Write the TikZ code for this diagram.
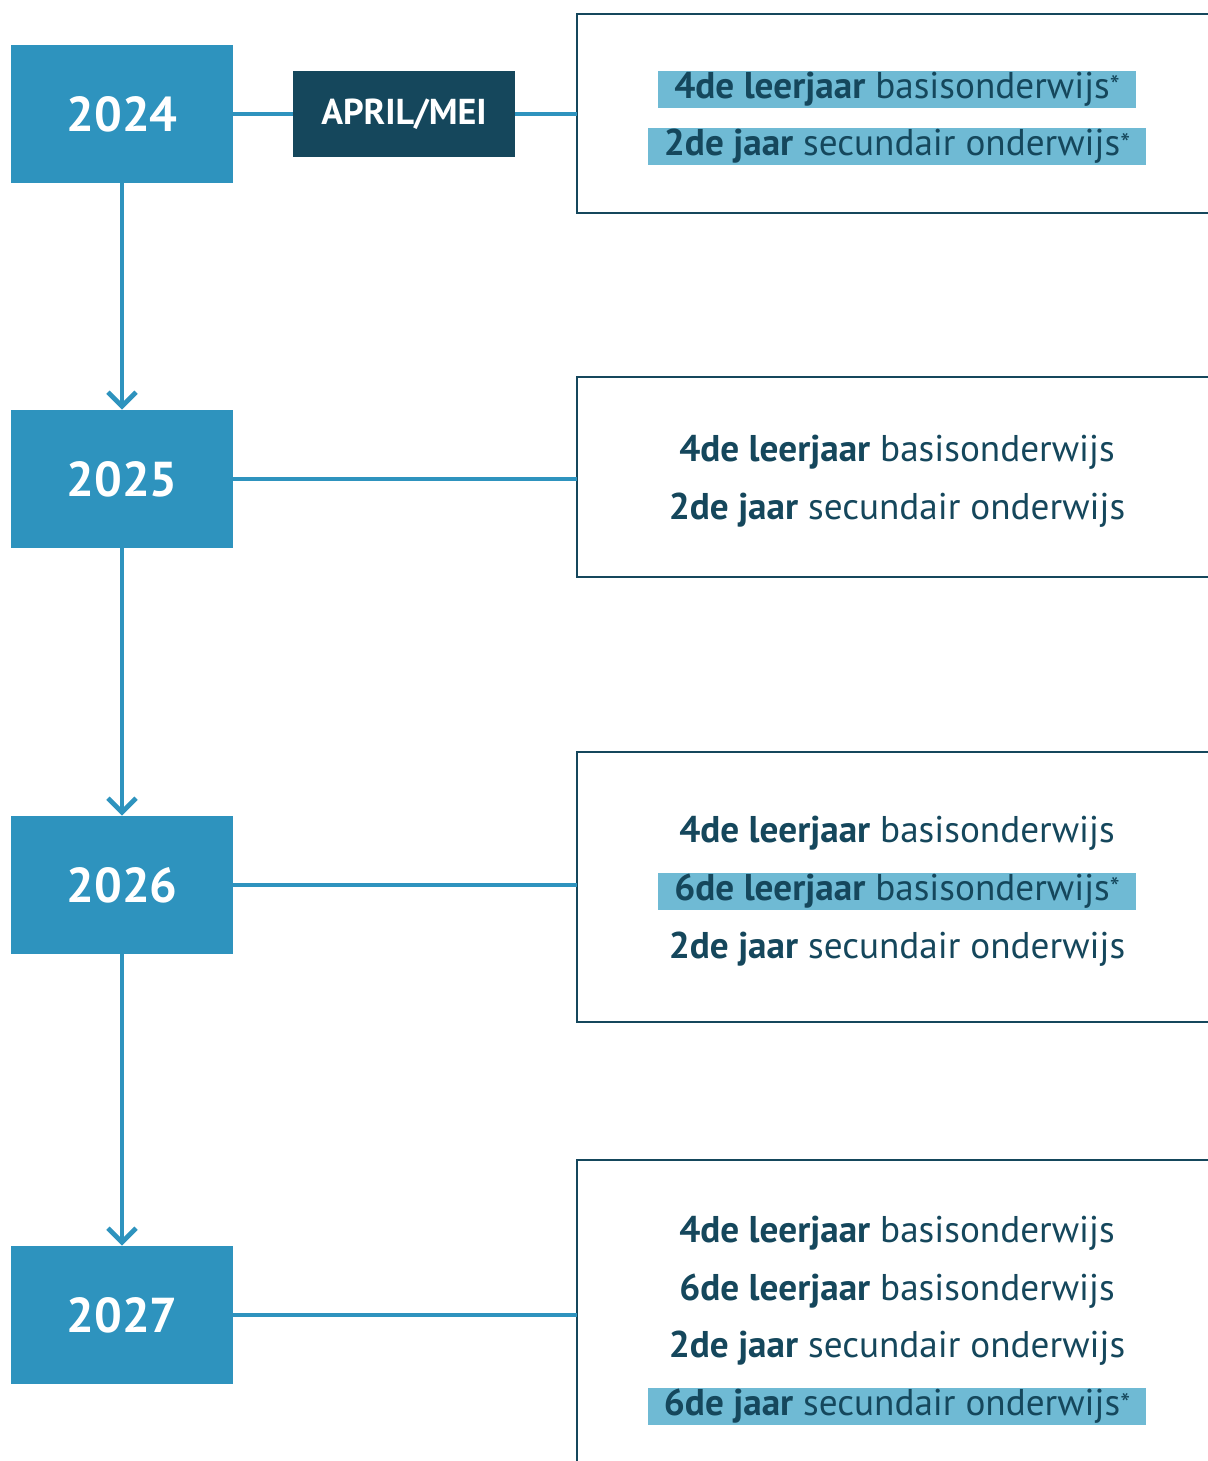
\documentclass[tikz,border=0pt]{standalone}
\usepackage{fontspec}
\setmainfont{PT Sans}
\usetikzlibrary{arrows.meta}
\definecolor{yearblue}{HTML}{2E93BE}
\definecolor{darkteal}{HTML}{15475C}
\definecolor{hilite}{HTML}{6FBAD4}
\newcommand{\myast}{\raisebox{0.15ex}{\fontsize{14}{14}\selectfont *}}
\begin{document}
\begin{tikzpicture}[x=0.5pt,y=-0.5pt,
  yearbox/.style={fill=yearblue,text=white,minimum width=111pt,minimum height=69pt,inner sep=0pt,font=\fontsize{24.5}{28}\selectfont\bfseries},
  monthbox/.style={fill=darkteal,text=white,minimum width=111pt,minimum height=42.5pt,inner sep=0pt,font=\fontsize{18}{20}\selectfont\bfseries},
  infobox/.style={draw=darkteal,line width=1.1pt},
  conn/.style={draw=yearblue,line width=2.4pt},
  flow/.style={draw=yearblue,line width=2.4pt,-{Straight Barb[length=7pt,width=14pt,line width=2.4pt]}},
  item/.style={text=darkteal,inner xsep=8pt,inner ysep=0pt,minimum height=18.5pt,font=\fontsize{18.6}{20}\selectfont},
  hl/.style={item,fill=hilite}
]
\useasboundingbox (0,0) rectangle (1208,1461);
% info boxes
\draw[infobox] (1215,14) -- (577,14) -- (577,213) -- (1215,213);
\draw[infobox] (1215,377) -- (577,377) -- (577,577) -- (1215,577);
\draw[infobox] (1215,752) -- (577,752) -- (577,1022) -- (1215,1022);
\draw[infobox] (1215,1160) -- (577,1160) -- (577,1470);
\coordinate (b1) at (577,114);
\coordinate (b2) at (577,479);
\coordinate (b3) at (577,885);
\coordinate (b4) at (577,1315);
% year boxes
\node[yearbox] (y24) at (122,114) {2024};
\node[yearbox] (y25) at (122,479) {2025};
\node[yearbox] (y26) at (122,885) {2026};
\node[yearbox] (y27) at (122,1315) {2027};
\node[monthbox] (am) at (404,114) {APRIL/MEI};
% connectors
\draw[conn] (y24.east) -- (am.west);
\draw[conn] (am.east) -- (b1);
\draw[conn] (y25.east) -- (b2);
\draw[conn] (y26.east) -- (b3);
\draw[conn] (y27.east) -- (b4);
\draw[flow] (y24.south) -- (y25.north);
\draw[flow] (y25.south) -- (y26.north);
\draw[flow] (y26.south) -- (y27.north);
% texts
\node[hl] (t11) at (897,89.5) {\textbf{4de leerjaar} basisonderwijs\myast};
\node[hl] (t12) at (897,146.5) {\textbf{2de jaar} secundair onderwijs\myast};
\node[item] (t21) at (897,452) {\textbf{4de leerjaar} basisonderwijs};
\node[item] (t22) at (897,510) {\textbf{2de jaar} secundair onderwijs};
\node[item] (t31) at (897,833) {\textbf{4de leerjaar} basisonderwijs};
\node[hl] (t32) at (897,891) {\textbf{6de leerjaar} basisonderwijs\myast};
\node[item] (t33) at (897,949) {\textbf{2de jaar} secundair onderwijs};
\node[item] (t41) at (897,1233) {\textbf{4de leerjaar} basisonderwijs};
\node[item] (t42) at (897,1291) {\textbf{6de leerjaar} basisonderwijs};
\node[item] (t43) at (897,1348) {\textbf{2de jaar} secundair onderwijs};
\node[hl] (t44) at (897,1406.5) {\textbf{6de jaar} secundair onderwijs\myast};
\end{tikzpicture}
\end{document}
